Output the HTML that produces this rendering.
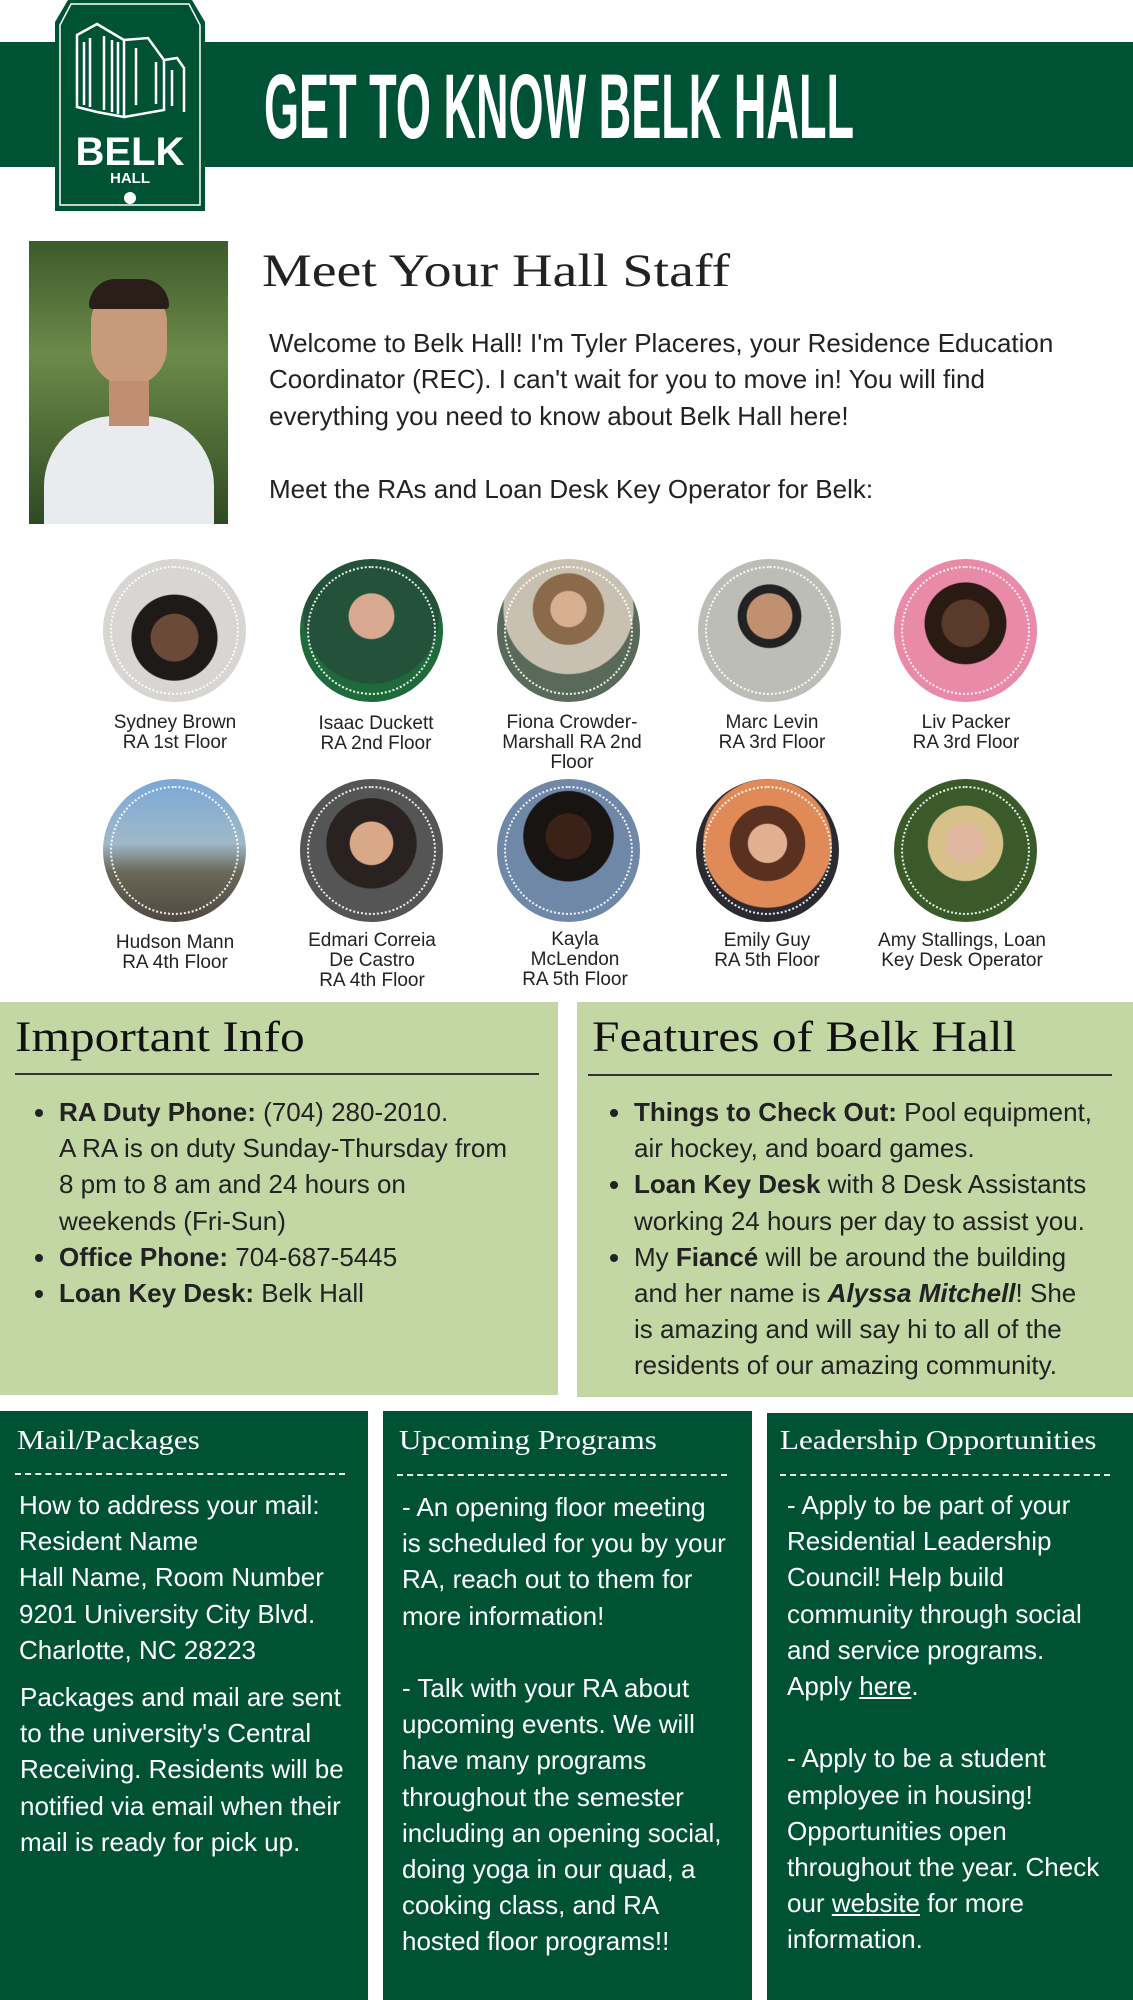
<!DOCTYPE html>
<html><head><meta charset="utf-8">
<style>
*{margin:0;padding:0;box-sizing:border-box}
body{width:1133px;height:2000px;position:relative;background:#fff;font-family:"Liberation Sans",sans-serif;color:#222;overflow:hidden}
.a{position:absolute}
.serif{font-family:"Liberation Serif",serif;transform:scaleX(1.15);transform-origin:left top;white-space:nowrap}
.c{position:absolute;width:143px;height:143px;border-radius:50%;overflow:hidden}
.c::after{content:"";position:absolute;left:7px;top:7px;right:7px;bottom:7px;border:2px dotted rgba(255,255,255,.9);border-radius:50%}
.n{position:absolute;width:190px;text-align:center;font-size:19px;line-height:20px;color:#222}
.p{font-size:26px;line-height:36.2px;white-space:nowrap}
.g{background:#c3d7a4}
.d{background:#005235;color:#fff}
ul{list-style:none}
li{position:relative}
li::before{content:"";position:absolute;left:-24px;top:15px;width:8px;height:8px;border-radius:50%;background:#222}
.dash{position:absolute;height:0;border-top:2px dashed #e8efe9}
</style></head><body>

<div class="a" style="left:0;top:42px;width:1133px;height:125px;background:#005235"></div>
<svg class="a" style="left:52px;top:0" width="156" height="212" viewBox="0 0 156 212">
<path d="M3 22 L16 0 H140 L153 22 V211 H3 Z" fill="#005235"/>
<path d="M8 25 L19 4 H137 L148 25 V205 H8 Z" fill="none" stroke="#fff" stroke-width="1.5"/>
<g fill="none" stroke="#fff" stroke-width="2.5">
<path d="M25 35 L45 24 L72 40 V117 L45 112 L25 107 Z"/>
<path d="M72 40 L96 38 L112 60 V110 L72 117"/>
<path d="M112 60 L125 58 L132 68 V112"/>
<path d="M32 42 V105 M38 38 V107 M52 36 V110 M60 40 V112 M66 42 V114 M84 48 V105 M104 62 V104 M120 70 V106"/>
</g>
<text x="78" y="165" text-anchor="middle" fill="#fff" font-family="Liberation Sans Narrow,Liberation Sans,sans-serif" font-weight="bold" font-size="40">BELK</text>
<text x="78" y="183" text-anchor="middle" fill="#fff" font-family="Liberation Sans Narrow,Liberation Sans,sans-serif" font-weight="bold" font-size="15">HALL</text>
<circle cx="78" cy="198" r="6" fill="#fff"/>
</svg>
<svg class="a" style="left:262px;top:60px" width="600" height="90">
<text x="2" y="78" fill="#fff" font-family="Liberation Sans Narrow,Liberation Sans,sans-serif" font-weight="bold" font-size="92" textLength="590" lengthAdjust="spacingAndGlyphs">GET TO KNOW BELK HALL</text>
</svg>

<div class="a" style="left:29px;top:241px;width:199px;height:283px;background:linear-gradient(#3d5a2a,#6c8a4a 40%,#2f4a22);overflow:hidden">
 <div class="a" style="left:15px;top:175px;width:170px;height:130px;border-radius:70px 70px 0 0;background:#e8ecef"></div>
 <div class="a" style="left:62px;top:45px;width:76px;height:100px;border-radius:38px 38px 40px 40px;background:#c89a7c"></div>
 <div class="a" style="left:60px;top:38px;width:80px;height:30px;border-radius:40px 40px 5px 5px;background:#2a1e18"></div>
 <div class="a" style="left:80px;top:140px;width:40px;height:45px;background:#c08e70"></div>
</div>

<div class="a serif" style="left:262px;top:244px;font-size:47px;color:#222;transform:scaleX(1.19)">Meet Your Hall Staff</div>
<div class="a p" style="left:269px;top:325px;font-size:26px;line-height:36.4px;color:#222">Welcome to Belk Hall! I'm Tyler Placeres, your Residence Education<br>Coordinator (REC). I can't wait for you to move in! You will find<br>everything you need to know about Belk Hall here!<br><br>Meet the RAs and Loan Desk Key Operator for Belk:</div>

<div class="c" style="left:103px;top:559px;background:radial-gradient(circle at 50% 55%,#6b4a3a 0 22%,#1e1a18 23% 40%,#d8d6d2 41%)"></div>
<div class="c" style="left:300px;top:559px;background:radial-gradient(circle at 50% 40%,#d8a890 0 20%,#23513a 21% 60%,#1f6a3a 61%)"></div>
<div class="c" style="left:497px;top:559px;background:radial-gradient(circle at 50% 35%,#d8ae90 0 15%,#8a6a4a 16% 30%,#c8c0b0 31% 55%,#5a6a5a 56%)"></div>
<div class="c" style="left:698px;top:559px;background:radial-gradient(circle at 50% 40%,#c09070 0 20%,#222 21% 28%,#bdbdb8 29%)"></div>
<div class="c" style="left:894px;top:559px;background:radial-gradient(circle at 50% 45%,#5a3a2a 0 22%,#2a1a14 23% 38%,#e88aa8 39%)"></div>
<div class="c" style="left:103px;top:779px;background:linear-gradient(#7aa8d8,#a0b8c8 45%,#6a6858 65%,#504840)"></div>
<div class="c" style="left:300px;top:779px;background:radial-gradient(circle at 50% 45%,#d8a888 0 20%,#2a2220 21% 42%,#555 43%)"></div>
<div class="c" style="left:497px;top:779px;background:radial-gradient(circle at 50% 40%,#3a2218 0 20%,#181412 21% 40%,#7088a8 41%)"></div>
<div class="c" style="left:696px;top:779px;background:radial-gradient(circle at 50% 45%,#e0b090 0 18%,#5a3020 19% 35%,#e08a58 36% 60%,#2a2a30 61%)"></div>
<div class="c" style="left:894px;top:779px;background:radial-gradient(circle at 50% 45%,#e0b8a0 0 18%,#d8c08a 19% 35%,#3a5a2a 36%)"></div>

<div class="n" style="left:80px;top:713px">Sydney Brown<br>RA 1st Floor</div>
<div class="n" style="left:281px;top:714px">Isaac Duckett<br>RA 2nd Floor</div>
<div class="n" style="left:477px;top:713px">Fiona Crowder-<br>Marshall RA 2nd<br>Floor</div>
<div class="n" style="left:677px;top:713px">Marc Levin<br>RA 3rd Floor</div>
<div class="n" style="left:871px;top:713px">Liv Packer<br>RA 3rd Floor</div>
<div class="n" style="left:80px;top:933px">Hudson Mann<br>RA 4th Floor</div>
<div class="n" style="left:277px;top:931px">Edmari Correia<br>De Castro<br>RA 4th Floor</div>
<div class="n" style="left:480px;top:930px">Kayla<br>McLendon<br>RA 5th Floor</div>
<div class="n" style="left:672px;top:931px">Emily Guy<br>RA 5th Floor</div>
<div class="n" style="left:867px;top:931px">Amy Stallings, Loan<br>Key Desk Operator</div>

<div class="a g" style="left:0;top:1002px;width:558px;height:393px">
 <div class="a serif" style="left:15px;top:11px;font-size:43px;color:#111">Important Info</div>
 <div class="a" style="left:15px;top:71px;width:524px;border-top:2px solid #333"></div>
 <ul class="a p" style="left:59px;top:92px;width:480px">
  <li><b>RA Duty Phone:</b> (704) 280-2010.<br>A RA is on duty Sunday-Thursday from<br>8 pm to 8 am and 24 hours on<br>weekends (Fri-Sun)</li>
  <li><b>Office Phone:</b> 704-687-5445</li>
  <li><b>Loan Key Desk:</b> Belk Hall</li>
 </ul>
</div>
<div class="a g" style="left:577px;top:1002px;width:556px;height:395px">
 <div class="a serif" style="left:15px;top:11px;font-size:43px;color:#111">Features of Belk Hall</div>
 <div class="a" style="left:11px;top:72px;width:524px;border-top:2px solid #333"></div>
 <ul class="a p" style="left:57px;top:92px;width:480px">
  <li><b>Things to Check Out:</b> Pool equipment,<br>air hockey, and board games.</li>
  <li><b>Loan Key Desk</b> with 8 Desk Assistants<br>working 24 hours per day to assist you.</li>
  <li>My <b>Fiancé</b> will be around the building<br>and her name is <b><i>Alyssa Mitchell</i></b>! She<br>is amazing and will say hi to all of the<br>residents of our amazing community.</li>
 </ul>
</div>

<div class="a d" style="left:0;top:1411px;width:368px;height:589px">
 <div class="a serif" style="left:17px;top:14px;font-size:27px">Mail/Packages</div>
 <div class="dash" style="left:15px;top:62px;width:330px"></div>
 <div class="a p" style="left:19px;top:76px">How to address your mail:<br>Resident Name<br>Hall Name, Room Number<br>9201 University City Blvd.<br>Charlotte, NC 28223</div>
 <div class="a p" style="left:20px;top:268px">Packages and mail are sent<br>to the university's Central<br>Receiving. Residents will be<br>notified via email when their<br>mail is ready for pick up.</div>
</div>
<div class="a d" style="left:383px;top:1411px;width:369px;height:589px">
 <div class="a serif" style="left:16px;top:14px;font-size:27px">Upcoming Programs</div>
 <div class="dash" style="left:14px;top:63px;width:330px"></div>
 <div class="a p" style="left:19px;top:78px">- An opening floor meeting<br>is scheduled for you by your<br>RA, reach out to them for<br>more information!<br><br>- Talk with your RA about<br>upcoming events. We will<br>have many programs<br>throughout the semester<br>including an opening social,<br>doing yoga in our quad, a<br>cooking class, and RA<br>hosted floor programs!!</div>
</div>
<div class="a d" style="left:767px;top:1413px;width:366px;height:587px">
 <div class="a serif" style="left:13px;top:12px;font-size:27px">Leadership Opportunities</div>
 <div class="dash" style="left:13px;top:61px;width:330px"></div>
 <div class="a p" style="left:20px;top:74px">- Apply to be part of your<br>Residential Leadership<br>Council! Help build<br>community through social<br>and service programs.<br>Apply <u>here</u>.<br><br>- Apply to be a student<br>employee in housing!<br>Opportunities open<br>throughout the year. Check<br>our <u>website</u> for more<br>information.</div>
</div>
</body></html>
